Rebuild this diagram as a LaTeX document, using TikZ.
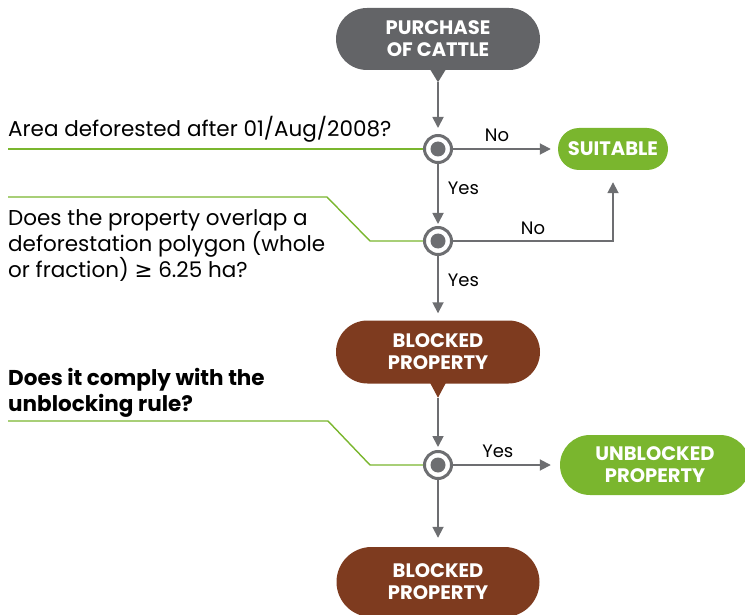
\documentclass[tikz,border=0pt]{standalone}
\usepackage{fontspec}
\setmainfont{Poppins}
\newfontfamily\symbolfont{DejaVu Sans}
\usetikzlibrary{arrows.meta,positioning,calc,shapes.misc}
\definecolor{CattleGrey}{HTML}{636467}
\definecolor{FlowGrey}{HTML}{6D6E71}
\definecolor{OkGreen}{HTML}{7AB62E}
\definecolor{BlockBrown}{HTML}{7E3B1F}

\tikzset{
  pill/.style={rounded rectangle,text=white,font=\bfseries\fontsize{19.5}{22}\selectfont,align=center,inner sep=0pt},
  decision/.style={circle,draw=FlowGrey,line width=3pt,fill=white,minimum size=27pt,inner sep=0pt,
    path picture={\fill[FlowGrey] (path picture bounding box.center) circle (7.5pt);}},
  flow/.style={draw=FlowGrey,line width=1.8pt,-{Triangle[length=11pt,width=11pt]}},
  guide/.style={draw=OkGreen,line width=1.4pt},
  question/.style={anchor=base west,font=\fontsize{21.5}{26}\selectfont,align=left,inner sep=0pt},
  answer/.style={font=\fontsize{18}{20}\selectfont,inner sep=0pt}
}

\begin{document}
\begin{tikzpicture}[x=1pt,y=-1pt]
  \useasboundingbox (0,0) rectangle (745,615);

  % outcome boxes
  \node[pill,fill=CattleGrey,minimum width=204pt,minimum height=62pt] (purchase) at (438,39) {PURCHASE\\OF CATTLE};
  \node[pill,fill=OkGreen,minimum width=110pt,minimum height=42pt] (suitable) at (613,149) {SUITABLE};
  \node[pill,fill=BlockBrown,minimum width=204pt,minimum height=63pt] (blocked) at (438,352) {BLOCKED\\PROPERTY};
  \node[pill,fill=OkGreen,minimum width=190pt,minimum height=60pt] (unblocked) at (655,465) {UNBLOCKED\\PROPERTY};
  \node[pill,fill=BlockBrown,minimum width=203pt,minimum height=70pt] (blockedfinal) at (438,582) {BLOCKED\\PROPERTY};

  % pointers under the boxes
  \fill[CattleGrey] ($(purchase.south)+(-8,-1)$) -- ($(purchase.south)+(8,-1)$) -- ($(purchase.south)+(0,12)$) -- cycle;
  \fill[BlockBrown] ($(blocked.south)+(-8,-1)$) -- ($(blocked.south)+(8,-1)$) -- ($(blocked.south)+(0,14)$) -- cycle;
  \coordinate (purchasetip) at ($(purchase.south)+(0,12)$);
  \coordinate (blockedtip) at ($(blocked.south)+(0,14)$);

  % questions
  \node[question] (areatext) at (8,137) {Area deforested after 01/Aug/2008?};
  \node[question,anchor=north west] (overlaptext) at (8,209) {Does the property overlap a\\deforestation polygon (whole\\or fraction) {\symbolfont ≥} 6.25 ha?};
  \node[question,anchor=north west,font=\bfseries\fontsize{21.5}{26}\selectfont] (ruletext) at (8,368) {Does it comply with the\\unblocking rule?};

  % decision points
  \node[decision] (q1) at (438,149) {};
  \node[decision] (q2) at (438,241) {};
  \node[decision] (q3) at (438,465) {};

  \coordinate (g1) at (8,149);
  \coordinate (g2) at (8,197);
  \coordinate (g3) at (8,421);
  \draw[guide] (g1) -- (q1.west);
  \draw[guide] (g2) -- (327,197) -- (370,241) -- (q2.west);
  \draw[guide] (g3) -- (328,421) -- (370,465) -- (q3.west);

  % connectors
  \draw[flow,shorten >=6pt] (purchasetip) -- (q1);
  \draw[flow,shorten >=7pt] (q1) -- node[answer,above=6pt,pos=0.42] {No} (suitable);
  \draw[flow,shorten >=2pt] (q1) -- node[answer,right=9pt,pos=0.4] {Yes} (q2);
  \draw[flow,shorten >=12pt] (q2) -- node[answer,above=5pt] {No} (q2 -| suitable) -- (suitable);
  \draw[flow,shorten >=7pt] (q2) -- node[answer,right=9pt,pos=0.38] {Yes} (blocked);
  \draw[flow,shorten >=3pt] (blockedtip) -- (q3);
  \draw[flow,shorten >=9pt] (q3) -- node[answer,above=6pt,pos=0.42] {Yes} (unblocked);
  \draw[flow,shorten >=9pt] (q3) -- (blockedfinal);
\end{tikzpicture}
\end{document}
